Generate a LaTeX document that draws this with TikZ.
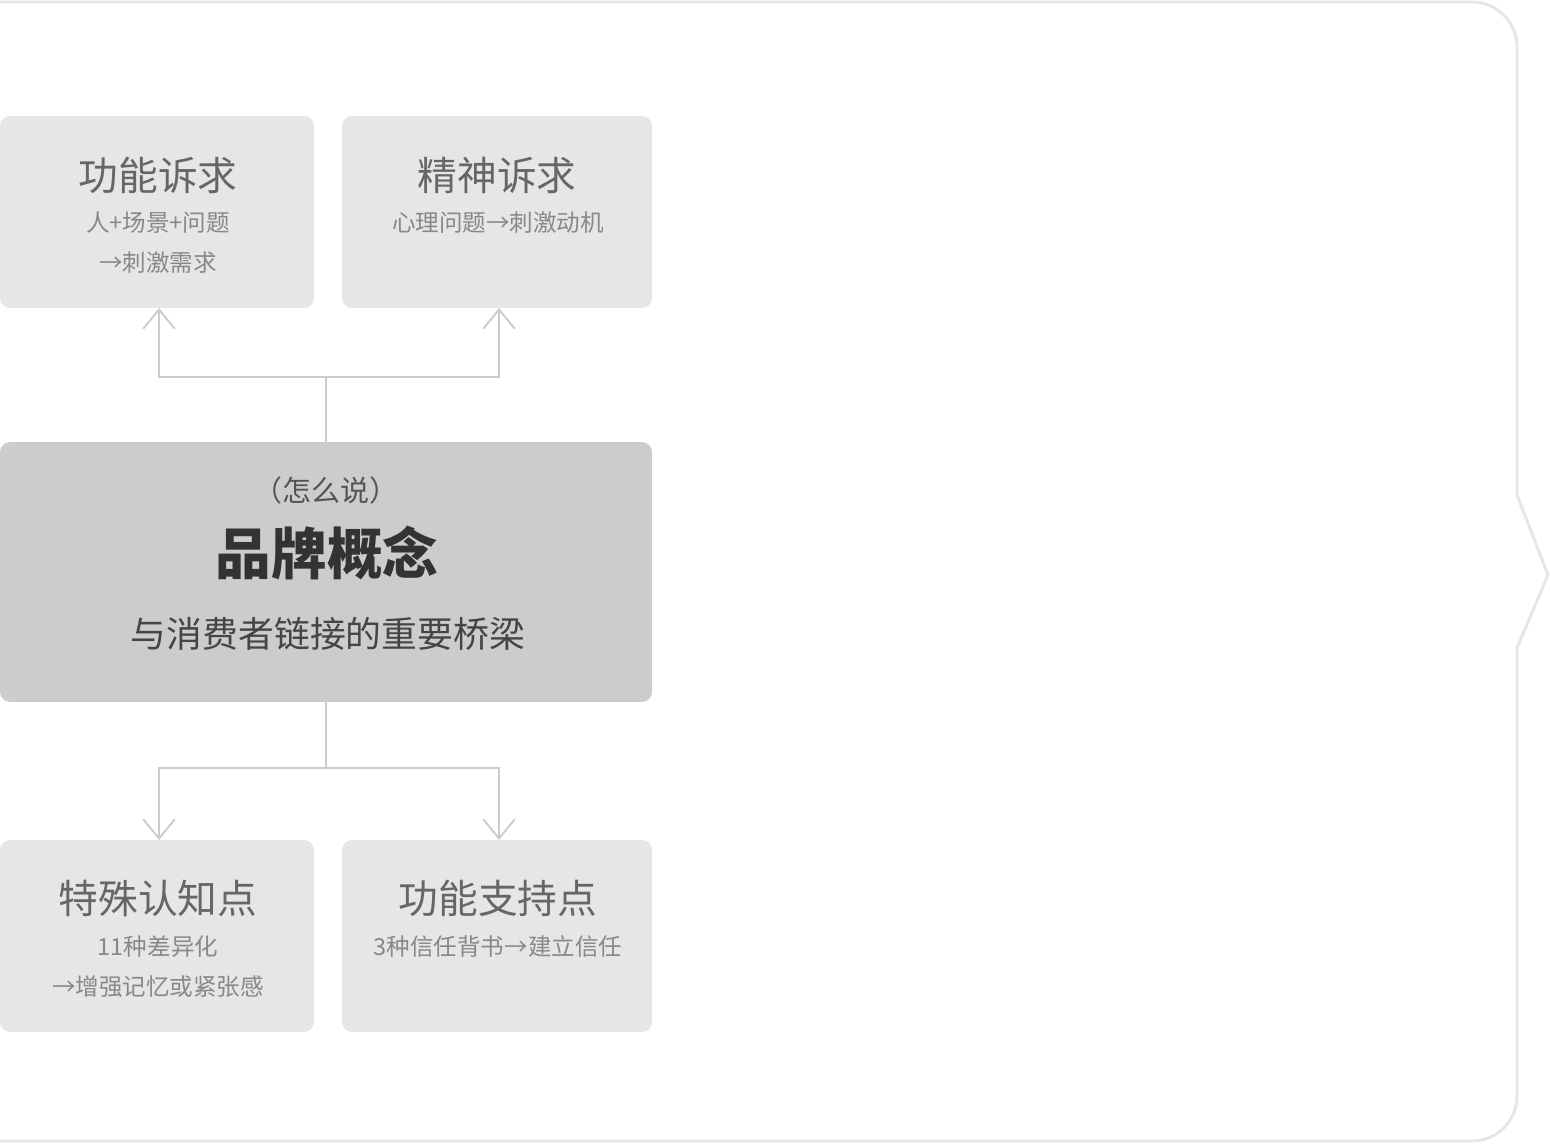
\documentclass[tikz,border=0pt]{standalone}
\usepackage{fontspec}
\setmainfont{Noto Sans CJK SC}
\usetikzlibrary{arrows.meta,positioning}

\definecolor{framegray}{HTML}{E6E6E6}
\definecolor{boxgray}{HTML}{E6E6E6}
\definecolor{maingray}{HTML}{CCCCCC}
\definecolor{linkgray}{HTML}{CCCCCC}
\definecolor{titlegray}{HTML}{666666}
\definecolor{subgray}{HTML}{888888}

\begin{document}
\begin{tikzpicture}[x=0.02cm, y=-0.02cm,
        smallbox/.style={rectangle, rounded corners=0.2cm, fill=boxgray, inner sep=0pt, outer sep=0pt,
                minimum width=#1, minimum height=3.84cm},
        bigbox/.style={rectangle, rounded corners=0.2cm, fill=maingray, inner sep=0pt, outer sep=0pt,
                minimum width=13.04cm, minimum height=5.2cm},
        title/.style={text=titlegray, font=\fontsize{22.6}{26}\selectfont, inner sep=0pt},
        sub/.style={text=subgray, font=\fontsize{13.4}{16}\selectfont, inner sep=0pt},
        link/.style={draw=linkgray, line width=1.1pt, -{Straight Barb[length=11pt, width=18pt]}},
        frame/.style={draw=framegray, line width=1.7pt}]
        \useasboundingbox (0, 0) rectangle (1550, 1145);
        \draw[frame, rounded corners=0.9cm] (0, 2) -- (1517, 2)
                [sharp corners] -- (1517, 495) -- (1548, 575) -- (1517, 648)
                [rounded corners=0.9cm] -- (1517, 1141) -- (0, 1141);

        \node[smallbox=6.28cm] (func) at (157, 212) {};
        \node[smallbox=6.2cm] (spirit) at (497, 212) {};
        \node[bigbox] (brand) at (326, 572) {};
        \node[smallbox=6.28cm] (cogn) at (157, 936) {};
        \node[smallbox=6.2cm] (support) at (497, 936) {};

        \node[title] (functitle) at (158, 175) {功能诉求};
        \node[sub] (funcsub1) at (158, 223) {人+场景+问题};
        \node[sub] (funcsub2) at (158, 263) {→刺激需求};
        \node[title] (spirittitle) at (497, 175) {精神诉求};
        \node[sub] (spiritsub) at (498, 223) {心理问题→刺激动机};

        \node[inner sep=0pt, text=black!67, font=\fontsize{16.5}{19}\selectfont] (brandhow) at (326, 490) {（怎么说）};
        \node[inner sep=0pt, text=black!80, font=\fontsize{31.7}{36}\selectfont\bfseries] (brandtitle) at (327, 553) {品牌概念};
        \node[inner sep=0pt, text=black!73, font=\fontsize{20.4}{24}\selectfont] (brandsub) at (328, 634) {与消费者链接的重要桥梁};

        \node[title] (cogntitle) at (158, 898) {特殊认知点};
        \node[sub] (cognsub1) at (158, 947) {11种差异化};
        \node[sub] (cognsub2) at (158, 987) {→增强记忆或紧张感};
        \node[title] (supporttitle) at (498, 898) {功能支持点};
        \node[sub] (supportsub) at (498, 947) {3种信任背书→建立信任};

        \coordinate (up) at (326, 377);
        \coordinate (down) at (326, 768);
        \draw[link] (brand.north) -- (up) -| (func.south -| 159, 0);
        \draw[link] (up) -| (spirit.south -| 499, 0);
        \draw[link] (brand.south) -- (down) -| (cogn.north -| 159, 0);
        \draw[link] (down) -| (support.north -| 499, 0);
\end{tikzpicture}
\end{document}
